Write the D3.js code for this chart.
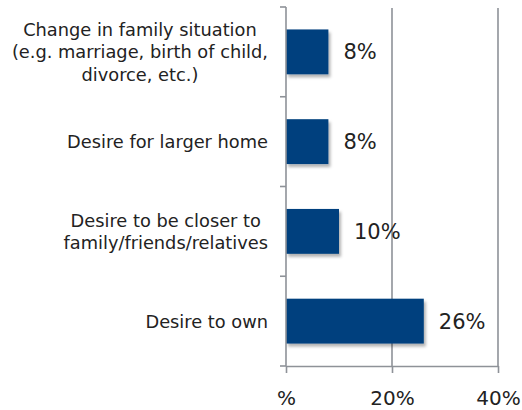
<!DOCTYPE html>
<html>
<head>
<meta charset="utf-8">
<script src="https://cdn.jsdelivr.net/npm/d3@7"></script>
<style>
  html, body { margin: 0; padding: 0; background: #fff; }
  svg { display: block; }
  text { font-family: "DejaVu Sans", sans-serif; fill: #222; }
</style>
</head>
<body>
<svg id="chart" width="522" height="410"></svg>
<script>
// Reasons for moving, share of respondents
const categories = [
  ["Change in family situation", "(e.g. marriage, birth of child,", "divorce, etc.)"],
  ["Desire for larger home"],
  ["Desire to be closer to", "family/friends/relatives"],
  ["Desire to own"]
];
const values = [8, 8, 10, 26];
const xTicks = [0, 20, 40];
const xTickLabels = ["%", "20%", "40%"];

const svg = d3.select("#chart");
const margin = { top: 7, left: 286 };
const plotBottom = 366;
const innerW = 212;

const x = d3.scaleLinear().domain([0, 40]).range([margin.left, margin.left + innerW]);
const y = d3.scaleBand().domain(d3.range(categories.length))
  .range([margin.top, plotBottom]).paddingInner(0.5).paddingOuter(0.25);

const axisColor = "#8e9298";

// soft drop shadow under the bars
const defs = svg.append("defs");
const f = defs.append("filter").attr("id", "shadow")
  .attr("x", "-10%").attr("y", "-10%").attr("width", "130%").attr("height", "140%");
f.append("feDropShadow").attr("dx", 2).attr("dy", 3).attr("stdDeviation", 1.6)
  .attr("flood-color", "#000").attr("flood-opacity", 0.3);

// vertical gridlines
svg.append("g").selectAll("line").data(xTicks.slice(1)).join("line")
  .attr("x1", d => x(d)).attr("x2", d => x(d))
  .attr("y1", 8).attr("y2", plotBottom)
  .attr("stroke", axisColor).attr("stroke-width", 1.6);

// bars
svg.append("g").selectAll("rect").data(values).join("rect")
  .attr("x", x(0))
  .attr("y", (d, i) => y(i))
  .attr("width", d => x(d) - x(0))
  .attr("height", y.bandwidth())
  .attr("fill", "#00417e")
  .attr("filter", "url(#shadow)");

// x axis
const xAxis = d3.axisBottom(x).tickValues(xTicks)
  .tickFormat((d, i) => xTickLabels[i]).tickSize(7).tickSizeOuter(0).tickPadding(18);
const gx = svg.append("g").attr("transform", `translate(0,${plotBottom})`).call(xAxis);
gx.select(".domain").attr("stroke", axisColor).attr("stroke-width", 1.6);
gx.selectAll(".tick line").attr("stroke", axisColor).attr("stroke-width", 1.6);
gx.selectAll(".tick text").attr("font-size", 20).attr("fill", "#222")
  .attr("font-family", "DejaVu Sans, sans-serif");

// y axis: boundary ticks between categories
const yEdges = d3.range(categories.length + 1)
  .map(i => margin.top + i * (plotBottom - margin.top) / categories.length);
svg.append("line").attr("x1", x(0)).attr("x2", x(0)).attr("y1", margin.top).attr("y2", plotBottom)
  .attr("stroke", axisColor).attr("stroke-width", 1.6);
svg.append("g").selectAll("line").data(yEdges).join("line")
  .attr("x1", x(0) - 6).attr("x2", x(0))
  .attr("y1", d => d).attr("y2", d => d)
  .attr("stroke", axisColor).attr("stroke-width", 1.6);

// category labels: block right-aligned, lines centred within the block
const labelRight = 268, lineH = 22.5, labelSize = 17.8;
const lg = svg.append("g");
categories.forEach((lines, i) => {
  const cy = y(i) + y.bandwidth() / 2;
  const g = lg.append("g");
  const texts = lines.map((t, k) => g.append("text")
    .attr("font-size", labelSize)
    .attr("text-anchor", "middle")
    .attr("y", cy + (k - (lines.length - 1) / 2) * lineH)
    .attr("dy", "0.36em")
    .text(t));
  const wMax = d3.max(texts, t => t.node().getBBox().width);
  texts.forEach(t => t.attr("x", labelRight - wMax / 2));
});

// value labels
svg.append("g").selectAll("text").data(values).join("text")
  .attr("x", d => x(d) + 15)
  .attr("y", (d, i) => y(i) + y.bandwidth() / 2)
  .attr("dy", "0.36em")
  .attr("font-size", 21)
  .text(d => d + "%");
</script>
</body>
</html>
